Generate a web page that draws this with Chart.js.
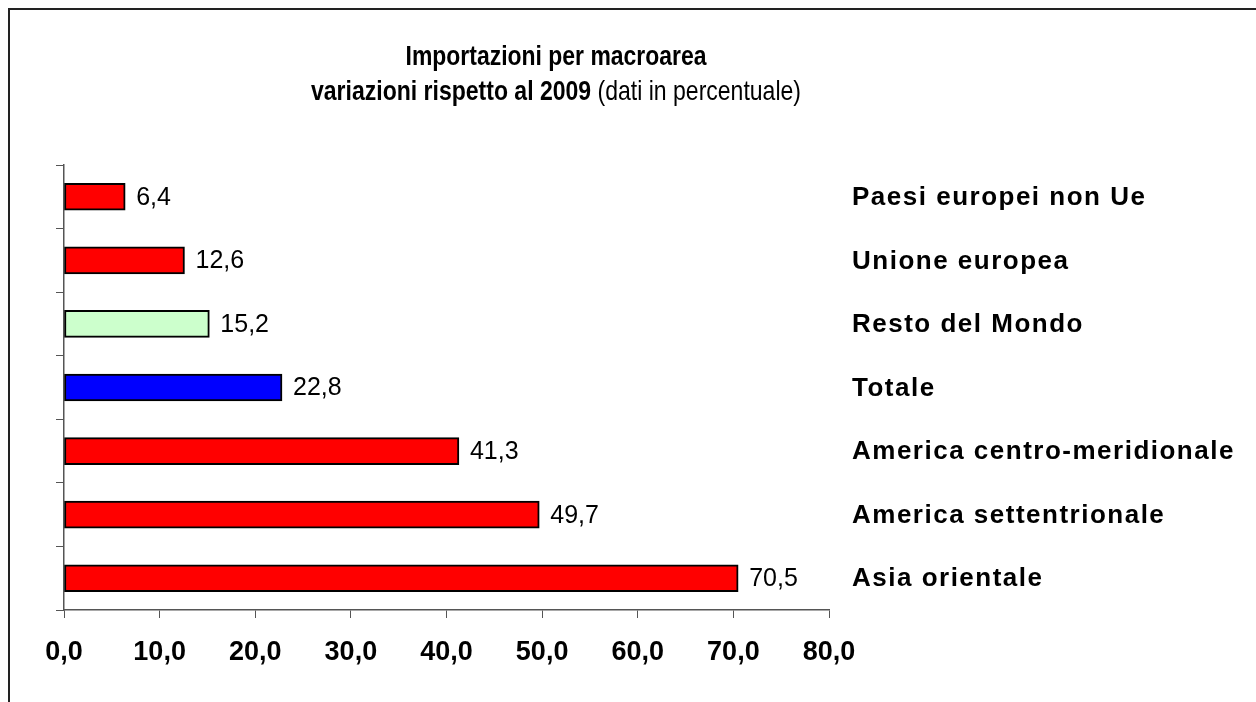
<!DOCTYPE html>
<html>
<head>
<meta charset="utf-8">
<script src="https://cdn.jsdelivr.net/npm/chart.js@4.4.0/dist/chart.umd.min.js"></script>
<style>
  html, body { margin: 0; padding: 0; background: #fff; }
  #wrap { width: 1256px; height: 702px; position: relative; }
</style>
</head>
<body>
<div id="wrap"><canvas id="chart" width="1256" height="702"></canvas></div>
<script>
const categories = [
  'Paesi europei non Ue',
  'Unione europea',
  'Resto del Mondo',
  'Totale',
  'America centro-meridionale',
  'America settentrionale',
  'Asia orientale'
];
const values = [6.4, 12.6, 15.2, 22.8, 41.3, 49.7, 70.5];
const barColors = ['#ff0000', '#ff0000', '#ccffcc', '#0000ff', '#ff0000', '#ff0000', '#ff0000'];
const titleLine1 = 'Importazioni per macroarea';
const titleBold2 = 'variazioni rispetto al 2009';
const titleNormal2 = ' (dati in percentuale)';

const fmt = v => v.toFixed(1).replace('.', ',');
const FONT = "Arial, 'Liberation Sans', sans-serif";

// page frame + title
const framePlugin = {
  id: 'frame',
  beforeDraw(chart) {
    const ctx = chart.ctx;
    ctx.save();
    ctx.strokeStyle = '#222';
    ctx.lineWidth = 2;
    ctx.beginPath();
    ctx.moveTo(9, 702);
    ctx.lineTo(9, 9);
    ctx.lineTo(1256, 9);
    ctx.stroke();

    const cx = 556;
    ctx.fillStyle = '#000';
    ctx.textBaseline = 'alphabetic';
    ctx.textAlign = 'left';
    // line 1, condensed to the reference width
    ctx.font = 'bold 28px ' + FONT;
    const w1 = ctx.measureText(titleLine1).width;
    ctx.save();
    ctx.translate(cx - 301 / 2, 65);
    ctx.scale(301 / w1, 1);
    ctx.fillText(titleLine1, 0, 0);
    ctx.restore();

    // line 2, mixed weights
    ctx.font = 'bold 28px ' + FONT;
    const wb = ctx.measureText(titleBold2).width;
    ctx.font = '28px ' + FONT;
    const wn = ctx.measureText(titleNormal2).width;
    const target = 490;
    ctx.save();
    ctx.translate(cx - target / 2, 100);
    ctx.scale(target / (wb + wn), 1);
    ctx.font = 'bold 28px ' + FONT;
    ctx.fillText(titleBold2, 0, 0);
    ctx.font = '28px ' + FONT;
    ctx.fillText(titleNormal2, wb, 0);
    ctx.restore();
    ctx.restore();
  }
};

// value labels next to bars and category names on the right
const labelsPlugin = {
  id: 'labels',
  afterDatasetsDraw(chart) {
    const ctx = chart.ctx;
    const meta = chart.getDatasetMeta(0);
    const yScale = chart.scales.y;
    ctx.save();
    ctx.fillStyle = '#000';
    ctx.textBaseline = 'middle';
    ctx.textAlign = 'left';
    ctx.font = '25px ' + FONT;
    meta.data.forEach((bar, i) => {
      ctx.fillText(fmt(values[i]), bar.x + 11, bar.y + 1);
    });
    ctx.font = 'bold 26px ' + FONT;
    ctx.letterSpacing = '1.5px';
    categories.forEach((c, i) => {
      ctx.fillText(c, 852, yScale.getPixelForValue(i) + 1);
    });
    ctx.restore();
  }
};

new Chart(document.getElementById('chart'), {
  type: 'bar',
  data: {
    labels: categories,
    datasets: [{
      data: values,
      backgroundColor: barColors,
      borderColor: '#000',
      borderWidth: 2,
      borderSkipped: false,
      barThickness: 27
    }]
  },
  options: {
    indexAxis: 'y',
    responsive: false,
    animation: false,
    events: [],
    layout: { padding: { left: 56, top: 165, right: 427, bottom: 20 } },
    plugins: {
      legend: { display: false },
      title: { display: false },
      tooltip: { enabled: false }
    },
    scales: {
      x: {
        min: 0,
        max: 80,
        afterFit: s => { s.height = 72; },
        grid: { drawOnChartArea: false, tickLength: 8, color: '#555', offset: false },
        border: { color: '#555', width: 1.5 },
        ticks: {
          stepSize: 10,
          padding: 18,
          color: '#000',
          font: { family: FONT, size: 27, weight: 'bold' },
          callback: v => fmt(v)
        }
      },
      y: {
        afterFit: s => { s.width = 8; },
        grid: { drawOnChartArea: false, tickLength: 8, color: '#555', offset: true },
        border: { color: '#555', width: 1.5 },
        ticks: { display: false }
      }
    }
  },
  plugins: [framePlugin, labelsPlugin]
});
</script>
</body>
</html>
